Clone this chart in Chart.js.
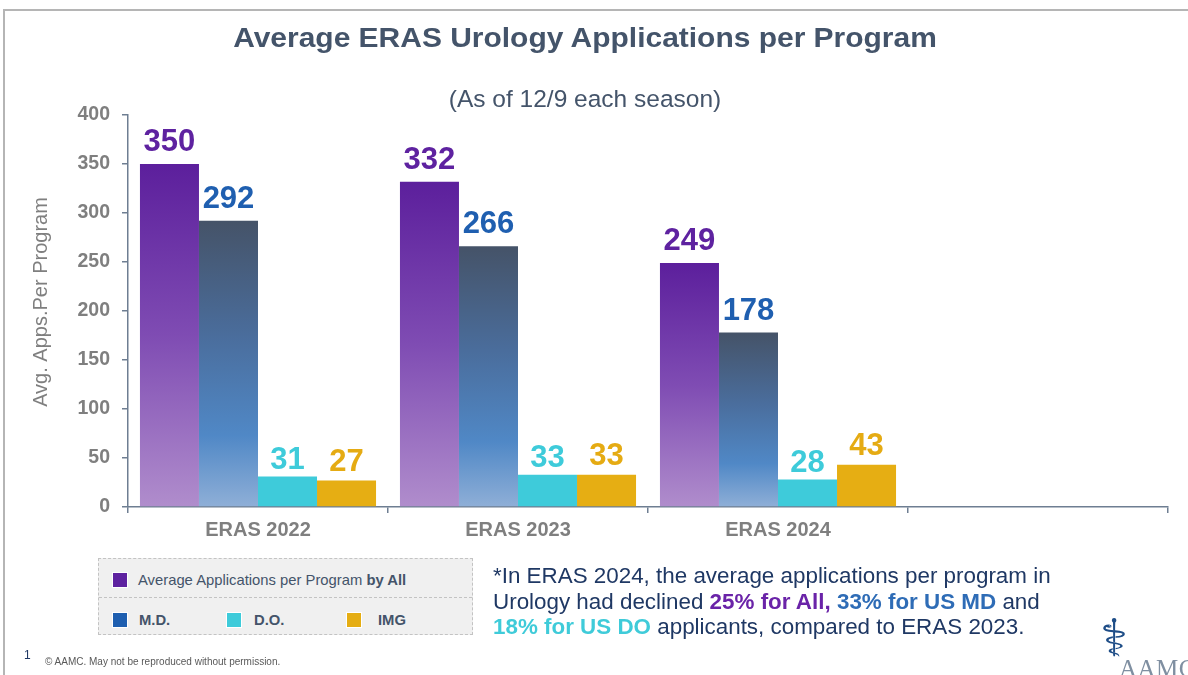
<!DOCTYPE html>
<html>
<head>
<meta charset="utf-8">
<script src="https://cdn.jsdelivr.net/npm/chart.js@4.4.1/dist/chart.umd.min.js"></script>
<style>
html,body{margin:0;padding:0;background:#fff;}
#page{position:relative;width:1188px;height:675px;overflow:hidden;font-family:"Liberation Sans",Arial,sans-serif;}
#frameTop{position:absolute;left:4px;top:9px;width:1184px;height:2px;background:#b5b5b5;}
#frameLeft{position:absolute;left:3px;top:9px;width:2px;height:666px;background:#b5b5b5;}
#chart{position:absolute;left:0;top:0;}
#title{position:absolute;left:585px;top:22px;transform:translateX(-50%) scaleX(1.07);white-space:nowrap;font-size:28px;font-weight:bold;color:#44546a;line-height:32px;}
#subtitle{position:absolute;left:585px;top:85px;transform:translateX(-50%);white-space:nowrap;font-size:24.5px;color:#44546a;line-height:28px;}
#legend{position:absolute;left:98px;top:558px;width:375px;height:77px;background:#f0f0f0;border:1px dashed #c3c3c3;box-sizing:border-box;}
#legDiv{position:absolute;left:0;top:38px;width:100%;height:0;border-top:1px dashed #c3c3c3;}
.lg{position:absolute;white-space:nowrap;font-size:14.8px;color:#44546a;line-height:18px;}
.sw{position:absolute;width:16px;height:16px;border:1px solid #fff;box-sizing:border-box;}
#note{position:absolute;left:493px;top:563px;font-size:22.4px;line-height:25.5px;color:#1f3864;white-space:nowrap;}
#pg{position:absolute;left:24px;top:648px;font-size:12px;color:#1f3864;}
#copy{position:absolute;left:45px;top:656px;font-size:10px;color:#595959;white-space:nowrap;}
#logoSym{position:absolute;left:1100px;top:610px;font-family:"DejaVu Sans";font-size:52px;color:#1e4d87;line-height:56px;}
#logoTxt{position:absolute;left:1119px;top:655px;font-family:"Liberation Serif",serif;font-size:25px;color:#7f8fa1;line-height:28px;letter-spacing:0.5px;}
</style>
</head>
<body>
<div id="page">
  <div id="frameTop"></div>
  <div id="frameLeft"></div>
  <canvas id="chart" width="1188" height="675"></canvas>
  <div id="title">Average ERAS Urology Applications per Program</div>
  <div id="subtitle">(As of 12/9 each season)</div>
  <div id="legend"><div id="legDiv"></div></div>
  <div id="note">*In ERAS 2024, the average applications per program in<br>Urology had declined <b style="color:#6a23a8">25% for All,</b> <b style="color:#2e6cb6">33% for US MD</b> and<br><b style="color:#3fcbd9">18% for US DO</b> applicants, compared to ERAS 2023.</div>
  <div id="pg">1</div>
  <div id="copy">© AAMC. May not be reproduced without permission.</div>
  <div id="logoSym">⚕</div>
  <div id="logoTxt">AAMC</div>
</div>
<script>
// ---- data ----
const categories = ["ERAS 2022", "ERAS 2023", "ERAS 2024", ""];
const seriesNames = ["Average Applications per Program", "M.D.", "D.O.", "IMG"];
const allValues = [350, 332, 249, null];
const mdValues = [292, 266, 178, null];
const doValues = [31, 33, 28, null];
const imgValues = [27, 33, 43, null];
const yTicks = [0, 50, 100, 150, 200, 250, 300, 350, 400];

// ---- styles ----
const FONT = '"Liberation Sans", Arial, sans-serif';
const swatchColors = ["#5e22a0", "#1f5fb0", "#3ecbda", "#e5ad13"];
const labelColors = ["#5e22a0", "#1f5fb0", "#3ecbda", "#e5ab13"];
const labelGaps = [13, 13, 8, 10];
const gradStops = [
  [[0, "#5c1f9c"], [0.5, "#7f4cb3"], [1, "#b08dcc"]],
  [[0, "#455368"], [0.4, "#4a6d9c"], [0.75, "#5088c6"], [1, "#8fafd7"]],
  null,
  null
];
const solidColors = [null, null, "#3ecbda", "#e6ae13"];
const axisColor = "#6e7e92";

function bg(i) {
  return function (ctx) {
    if (!gradStops[i]) return solidColors[i];
    const chart = ctx.chart;
    const area = chart.chartArea;
    if (!area || ctx.type !== 'data' || ctx.raw == null) return gradStops[i][0][1];
    const y = chart.scales.y;
    const top = y.getPixelForValue(ctx.raw), bot = y.getPixelForValue(0);
    const g = chart.ctx.createLinearGradient(0, top, 0, bot);
    gradStops[i].forEach(s => g.addColorStop(s[0], s[1]));
    return g;
  };
}

// legend (HTML, from series names)
(function () {
  const lg = document.getElementById('legend');
  const pos = [
    {sx: 13, sy: 13, tx: 39, ty: 12},
    {sx: 13, sy: 53, tx: 40, ty: 52},
    {sx: 127, sy: 53, tx: 155, ty: 52},
    {sx: 247, sy: 53, tx: 279, ty: 52}
  ];
  seriesNames.forEach((n, i) => {
    const s = document.createElement('div');
    s.className = 'sw';
    s.style.left = pos[i].sx + 'px'; s.style.top = pos[i].sy + 'px';
    s.style.background = swatchColors[i];
    lg.appendChild(s);
    const t = document.createElement('div');
    t.className = 'lg';
    t.style.left = pos[i].tx + 'px'; t.style.top = pos[i].ty + 'px';
    if (i === 0) t.innerHTML = n + ' <b>by All</b>';
    else { t.textContent = n; t.style.fontWeight = 'bold'; }
    lg.appendChild(t);
  });
})();

const valueLabels = {
  id: 'valueLabels',
  afterDatasetsDraw(chart) {
    const c = chart.ctx;
    c.save();
    c.font = 'bold 31px ' + FONT;
    c.textAlign = 'center';
    c.textBaseline = 'alphabetic';
    chart.data.datasets.forEach((ds, i) => {
      const meta = chart.getDatasetMeta(i);
      meta.data.forEach((bar, j) => {
        const v = ds.data[j];
        if (v == null) return;
        c.fillStyle = labelColors[i];
        c.fillText(String(v), bar.x, bar.y - labelGaps[i]);
      });
    });
    c.restore();
  }
};

const yTitle = {
  id: 'yTitle',
  afterDraw(chart) {
    const c = chart.ctx;
    c.save();
    c.translate(41, 302);
    c.rotate(-Math.PI / 2);
    c.font = '20px ' + FONT;
    c.fillStyle = '#7f7f7f';
    c.textAlign = 'center';
    c.textBaseline = 'middle';
    c.fillText('Avg. Apps.Per Program', 0, 0);
    c.restore();
  }
};

const valueSets = [allValues, mdValues, doValues, imgValues];
new Chart(document.getElementById('chart'), {
  type: 'bar',
  data: {
    labels: categories,
    datasets: valueSets.map((vals, i) => ({
      label: seriesNames[i],
      data: vals,
      backgroundColor: bg(i),
      borderWidth: 0,
      categoryPercentage: 0.908,
      barPercentage: 1.0
    }))
  },
  options: {
    responsive: false,
    animation: false,
    devicePixelRatio: 1,
    layout: {padding: {left: 0, right: 20, top: 115, bottom: 128}},
    plugins: {legend: {display: false}, tooltip: {enabled: false}, title: {display: false}},
    scales: {
      x: {
        offset: true,
        grid: {offset: true, drawOnChartArea: false, drawTicks: true, tickLength: 6, color: axisColor, lineWidth: 1.5},
        border: {color: axisColor, width: 1.5},
        ticks: {color: '#7f7f7f', font: {family: FONT, size: 20, weight: 'bold'}, padding: 5, maxRotation: 0},
        afterFit(s) { s.height = 40; }
      },
      y: {
        min: 0, max: 400,
        afterBuildTicks(s) { s.ticks = yTicks.map(v => ({value: v})); },
        grid: {drawOnChartArea: false, drawTicks: true, tickLength: 6, color: axisColor, lineWidth: 1.5},
        border: {color: axisColor, width: 1.5},
        ticks: {color: '#7f7f7f', font: {family: FONT, size: 19.5, weight: 'bold'}, padding: 12},
        afterFit(s) { s.width = 128; }
      }
    }
  },
  plugins: [valueLabels, yTitle]
});
</script>
</body>
</html>
